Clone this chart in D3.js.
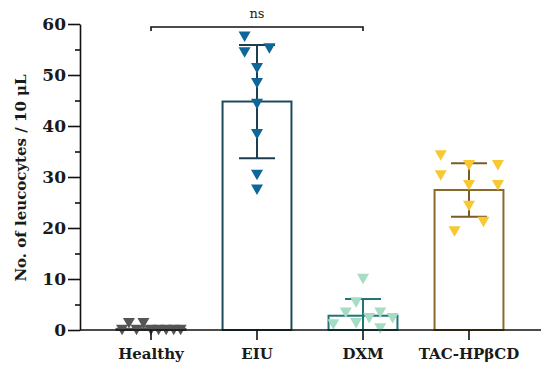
<!DOCTYPE html>
<html>
<head>
<meta charset="utf-8">
<script src="https://cdn.jsdelivr.net/npm/d3@7"></script>
<style>
body{margin:0;background:#fff}
</style>
</head>
<body>
<div id="chart"></div>
<script>
// groups and summary values
const groups = ["Healthy", "EIU", "DXM", "TAC-HPβCD"];
const means = [0.22, 44.8, 2.8, 27.45];
const sds = [0.44, 11.1, 3.3, 5.25];

// individual eyes, value and horizontal spread (fraction of bar width)
const healthyPts = [1.3, 1.3, 0, 0, 0, 0, 0, 0, 0];
const healthyJit = [-0.32, -0.11, -0.42, -0.21, 0, 0.11, 0.22, 0.33, 0.43];
const eiuPts = [57.5, 55.2, 54.4, 51.3, 48.4, 44.3, 38.4, 30.4, 27.5];
const eiuJit = [-0.18, 0.18, -0.18, 0, 0, 0, 0, 0, 0];
const dxmPts = [10, 5.4, 3.4, 3.4, 2.3, 2.3, 1.3, 1.1, 0.3];
const dxmJit = [0, -0.1, -0.25, 0.25, 0.09, 0.43, -0.1, -0.43, 0.25];
const tacPts = [34.2, 32.3, 32.3, 30.3, 28.4, 28.4, 24.3, 21.2, 19.3];
const tacJit = [-0.41, 0, 0.42, -0.41, 0, 0.42, 0, 0.21, -0.21];

const yTicks = [0, 10, 20, 30, 40, 50, 60];
const yMinor = [5, 15, 25, 35, 45, 55];

const markColor = ["#555555", "#0f6698", "#a6dcc4", "#f8c832"];
const barColor = ["#555555", "#1d4a5c", "#1f7676", "#8a6a2c"];
const errColor = ["#555555", "#1b3f50", "#1f7676", "#7a5c24"];

const width = 550, height = 375;
const margin = {top: 24, right: 9, bottom: 45, left: 80};

const svg = d3.select("#chart").append("svg")
  .attr("width", width)
  .attr("height", height)
  .style("font-family", "'DejaVu Serif', serif");

const y = d3.scaleLinear().domain([0, 60]).range([height - margin.bottom, margin.top]);
const x = d3.scaleBand().domain(groups).range([98, 522]).paddingInner(0.35).paddingOuter(0.175);
const bw = x.bandwidth();
const jit = d3.scaleLinear().domain([0, 1]).range([0, bw]);

const points = [healthyPts, eiuPts, dxmPts, tacPts];
const jitters = [healthyJit, eiuJit, dxmJit, tacJit];

// bars (outline only)
svg.append("g").selectAll("rect")
  .data(groups)
  .join("rect")
  .attr("x", d => x(d))
  .attr("y", (d, i) => y(means[i]))
  .attr("width", bw)
  .attr("height", (d, i) => y(0) - y(means[i]))
  .attr("fill", "none")
  .attr("stroke", (d, i) => barColor[i])
  .attr("stroke-width", 2);

// error bars
const capW = 36;
const eb = svg.append("g").selectAll("g")
  .data(groups)
  .join("g")
  .attr("stroke", (d, i) => errColor[i])
  .attr("stroke-width", 2);
eb.append("line")
  .attr("x1", d => x(d) + bw / 2).attr("x2", d => x(d) + bw / 2)
  .attr("y1", (d, i) => y(means[i] + sds[i]))
  .attr("y2", (d, i) => y(Math.max(0, means[i] - sds[i])));
eb.append("line")
  .attr("x1", d => x(d) + bw / 2 - capW / 2).attr("x2", d => x(d) + bw / 2 + capW / 2)
  .attr("y1", (d, i) => y(means[i] + sds[i]))
  .attr("y2", (d, i) => y(means[i] + sds[i]));
eb.append("line")
  .attr("x1", d => x(d) + bw / 2 - capW / 2).attr("x2", d => x(d) + bw / 2 + capW / 2)
  .attr("y1", (d, i) => y(Math.max(0, means[i] - sds[i])))
  .attr("y2", (d, i) => y(Math.max(0, means[i] - sds[i])));

// scatter of individual values, down triangles
const tw = 12, th = 10.5;
const tri = (cx, cy) => `M${cx - tw / 2},${cy - th / 2}L${cx + tw / 2},${cy - th / 2}L${cx},${cy + th / 2}Z`;
groups.forEach((g, gi) => {
  svg.append("g").selectAll("path")
    .data(points[gi])
    .join("path")
    .attr("d", (v, j) => tri(x(g) + bw / 2 + jit(jitters[gi][j]), y(v)))
    .attr("fill", markColor[gi]);
});

// y axis
const yAxis = svg.append("g")
  .attr("transform", `translate(${margin.left},0)`)
  .call(d3.axisLeft(y).tickValues(yTicks).tickSize(12).tickSizeOuter(0).tickPadding(2));
yAxis.select(".domain").attr("stroke", "#111").attr("stroke-width", 1.6);
yAxis.selectAll(".tick line").attr("stroke", "#111").attr("stroke-width", 1.6);
yAxis.selectAll("text")
  .attr("font-family", "'DejaVu Serif', serif")
  .attr("font-weight", "bold")
  .attr("font-size", 17)
  .attr("fill", "#1a1a1a");

const yMin = svg.append("g")
  .attr("transform", `translate(${margin.left},0)`)
  .call(d3.axisLeft(y).tickValues(yMinor).tickSize(5).tickFormat(""));
yMin.select(".domain").remove();
yMin.selectAll(".tick line").attr("stroke", "#111").attr("stroke-width", 1.6);

// x axis
const xAxis = svg.append("g")
  .attr("transform", `translate(0,${y(0)})`)
  .call(d3.axisBottom(x).tickSize(10).tickPadding(8));
xAxis.select(".domain").remove();
xAxis.selectAll(".tick line").attr("stroke", "#111").attr("stroke-width", 1.6);
xAxis.selectAll("text")
  .attr("font-family", "'DejaVu Serif', serif")
  .attr("font-weight", "bold")
  .attr("font-size", 15)
  .attr("fill", "#1a1a1a");
svg.append("line")
  .attr("x1", margin.left).attr("x2", width - margin.right)
  .attr("y1", y(0)).attr("y2", y(0))
  .attr("stroke", "#111").attr("stroke-width", 1.6);

// y title
svg.append("text")
  .attr("transform", `translate(26,${(y(0) + y(60)) / 2 + 1}) rotate(-90)`)
  .attr("text-anchor", "middle")
  .attr("font-weight", "bold")
  .attr("font-size", 15)
  .attr("fill", "#1a1a1a")
  .text("No. of leucocytes / 10 μL");

// significance bracket Healthy vs DXM
const bx1 = x("Healthy") + bw / 2, bx2 = x("DXM") + bw / 2, by = 27;
svg.append("path")
  .attr("d", `M${bx1},${by + 4}V${by}H${bx2}V${by + 4}`)
  .attr("fill", "none")
  .attr("stroke", "#111")
  .attr("stroke-width", 1.6);
svg.append("text")
  .attr("x", (bx1 + bx2) / 2)
  .attr("y", by - 9)
  .attr("text-anchor", "middle")
  .attr("font-size", 13)
  .attr("fill", "#1a1a1a")
  .text("ns");
</script>
</body>
</html>
